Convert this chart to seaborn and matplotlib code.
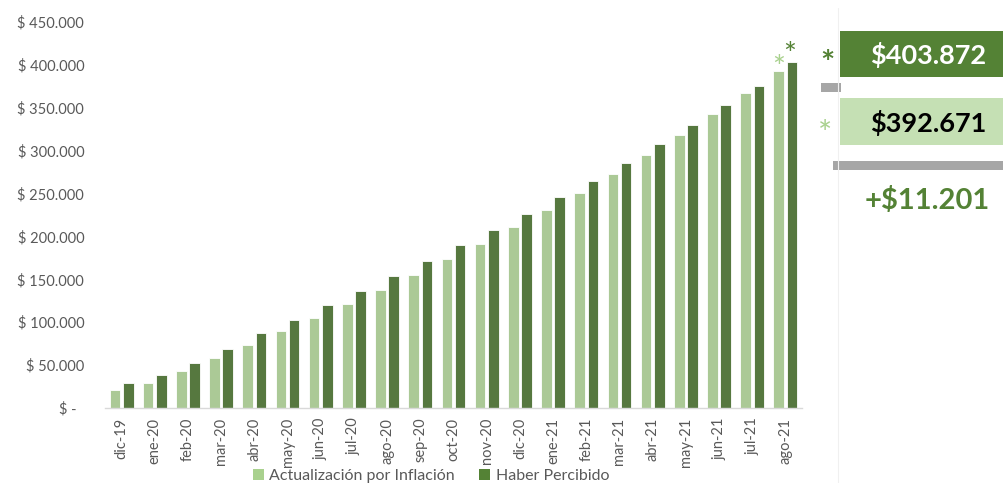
import matplotlib
matplotlib.use("Agg")
import matplotlib.pyplot as plt
from matplotlib.patches import Rectangle, Patch
from matplotlib.lines import Line2D
from matplotlib.ticker import FuncFormatter, FixedLocator
import seaborn as sns
import pandas as pd
import numpy as np

months = ["dic-19", "ene-20", "feb-20", "mar-20", "abr-20", "may-20", "jun-20",
          "jul-20", "ago-20", "sep-20", "oct-20", "nov-20", "dic-20", "ene-21",
          "feb-21", "mar-21", "abr-21", "may-21", "jun-21", "jul-21", "ago-21"]
inflacion = [21000, 28800, 43100, 58700, 73500, 89400, 104600,
             121300, 137600, 155100, 173300, 191200, 210700, 230500,
             251100, 272800, 295400, 318300, 342800, 366900, 392671]
percibido = [28800, 38100, 52500, 68400, 87100, 102200, 119700,
             136000, 153500, 171800, 189700, 207900, 226600, 246000,
             265100, 285300, 307400, 329600, 352900, 375900, 403872]
series_names = ["Actualización por Inflación", "Haber Percibido"]

LIGHT = "#A9D18E"
DARK = "#548235"
BOXLIGHT = "#C5E0B4"
GRAY = "#A6A6A6"
TXT = "#595959"

df = pd.DataFrame({
    "mes": months * 2,
    "valor": inflacion + percibido,
    "serie": [series_names[0]] * len(months) + [series_names[1]] * len(months),
})

sns.set_theme(style="white")
plt.rcParams["font.family"] = ["Lato", "DejaVu Sans"]

fig = plt.figure(figsize=(10.04, 4.83), dpi=100)
ax = fig.add_axes([105 / 1004, 1 - 408 / 483, (802 - 105) / 1004, (408 - 22) / 483])

sns.barplot(data=df, x="mes", y="valor", hue="serie", order=months,
            hue_order=series_names, palette=[LIGHT, DARK], width=0.8, gap=0.2,
            edgecolor="white", linewidth=0.6, ax=ax, legend=False)

ax.set_ylim(0, 450000)
ax.set_xlim(-0.5, len(months) - 0.5)
ax.set_xlabel("")
ax.set_ylabel("")
ax.yaxis.set_major_locator(FixedLocator(np.arange(0, 450001, 50000)))


def fmt(v, pos):
    if v == 0:
        return "$ -  "
    return "$ " + f"{int(v):,}".replace(",", ".")


ax.yaxis.set_major_formatter(FuncFormatter(fmt))
ax.tick_params(axis="y", length=0, pad=15, labelsize=10.5, labelcolor=TXT)
ax.tick_params(axis="x", which="major", length=0, pad=7, labelsize=10.5, labelcolor=TXT,
               labelrotation=90)
ax.set_xticks(np.arange(-0.5, len(months), 1.0), minor=True)
ax.tick_params(axis="x", which="minor", length=4, color="#D9D9D9", width=0.8)
for s in ["top", "right", "left"]:
    ax.spines[s].set_visible(False)
ax.spines["bottom"].set_color("#D9D9D9")
ax.spines["bottom"].set_linewidth(1)
ax.grid(False)

# asterisks above last bars
last = len(months) - 1
ax.annotate("*", xy=(last - 0.2, inflacion[-1]), xytext=(0, -8), textcoords="offset points",
            color=LIGHT, fontsize=22, ha="center", va="bottom")
ax.annotate("*", xy=(last + 0.2, percibido[-1]), xytext=(-2, -5), textcoords="offset points",
            color=DARK, fontsize=22, ha="center", va="bottom")

# legend
handles = [Patch(facecolor=LIGHT, edgecolor="none"), Patch(facecolor=DARK, edgecolor="none")]
fig.legend(handles, series_names, loc="center", bbox_to_anchor=(431 / 1004, 7 / 483),
           ncol=2, frameon=False, fontsize=11.5, labelcolor=TXT, handlelength=0.7,
           handleheight=0.75, handletextpad=0.35, columnspacing=1.5, borderpad=0)

# right panel
def fx(px):
    return px / 1004


def fy(py):
    return 1 - py / 483


fig.add_artist(Line2D([fx(838), fx(838)], [fy(8), fy(483)], color="#F0F0F0", lw=0.8))
fig.add_artist(Rectangle((fx(840), fy(77)), fx(1004) - fx(840), fy(31) - fy(77),
                         facecolor=DARK, edgecolor="none", transform=fig.transFigure))
fig.add_artist(Rectangle((fx(840), fy(145)), fx(1004) - fx(840), fy(98) - fy(145),
                         facecolor=BOXLIGHT, edgecolor="none", transform=fig.transFigure))
fig.add_artist(Rectangle((fx(821), fy(92)), fx(841) - fx(821), fy(83) - fy(92),
                         facecolor=GRAY, edgecolor="none", transform=fig.transFigure))
fig.add_artist(Rectangle((fx(833), fy(170)), fx(1004) - fx(833), fy(161) - fy(170),
                         facecolor=GRAY, edgecolor="none", transform=fig.transFigure))


def money(v):
    return "$" + f"{int(v):,}".replace(",", ".")


fig.text(fx(928), fy(55), money(percibido[-1]), color="white", fontsize=19.5,
         fontweight="bold", ha="center", va="center")
fig.text(fx(928), fy(123), money(inflacion[-1]), color="black", fontsize=19.5,
         fontweight="bold", ha="center", va="center")
fig.text(fx(927), fy(201), "+" + money(percibido[-1] - inflacion[-1]), color=DARK,
         fontsize=21, fontweight="bold", ha="center", va="center")
fig.text(fx(827), fy(65), "*", color=DARK, fontsize=24, fontweight="bold",
         ha="center", va="center")
fig.text(fx(825), fy(135), "*", color=LIGHT, fontsize=24,
         ha="center", va="center")

fig.savefig("out.png", dpi=100)
